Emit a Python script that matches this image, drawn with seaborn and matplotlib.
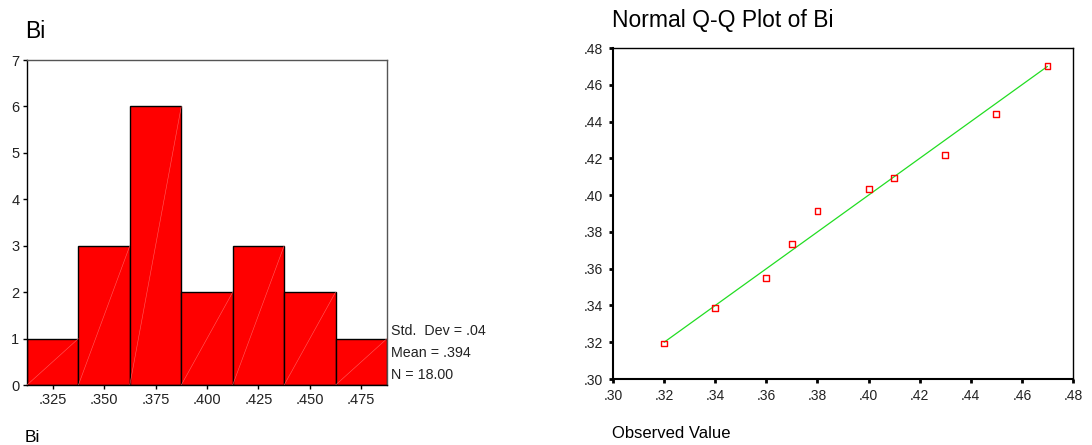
import matplotlib
matplotlib.use("Agg")
import matplotlib.pyplot as plt
import seaborn as sns
import numpy as np
import pandas as pd

# ---- data ----
bin_centers = [0.325, 0.350, 0.375, 0.400, 0.425, 0.450, 0.475]
bin_counts = [1, 3, 6, 2, 3, 2, 1]
bin_width = 0.025
hist_xticklabels = [".325", ".350", ".375", ".400", ".425", ".450", ".475"]
hist_yticks = [0, 1, 2, 3, 4, 5, 6, 7]
stats_lines = ["Std.  Dev = .04", "Mean = .394", "N = 18.00"]

qq_observed = [0.32, 0.34, 0.36, 0.37, 0.38, 0.40, 0.41, 0.43, 0.45, 0.47]
qq_expected = [0.3193, 0.3384, 0.355, 0.3736, 0.3916, 0.4033, 0.4093, 0.422, 0.4439, 0.4703]
qq_line_x = [0.32, 0.47]
qq_line_y = [0.32, 0.47]
qq_ticks = [0.30, 0.32, 0.34, 0.36, 0.38, 0.40, 0.42, 0.44, 0.46, 0.48]
qq_ticklabels = [".30", ".32", ".34", ".36", ".38", ".40", ".42", ".44", ".46", ".48"]

sns.set_theme(style="white")
plt.rcParams['font.family'] = ['Liberation Sans', 'DejaVu Sans']
plt.rcParams['text.color'] = 'black'
plt.rcParams['xtick.color'] = 'black'
plt.rcParams['ytick.color'] = 'black'
plt.rcParams['axes.labelcolor'] = 'black'

fig = plt.figure(figsize=(10.92, 4.45), dpi=100)

# ---- histogram ----
ax1 = fig.add_axes([0.0247, 0.1348, 0.3297, 0.7303])
edges = [c - bin_width / 2 for c in bin_centers] + [bin_centers[-1] + bin_width / 2]
hdf = pd.DataFrame({"Bi": bin_centers, "w": bin_counts})
sns.histplot(data=hdf, x="Bi", weights="w", bins=edges, ax=ax1,
             color="#FF0000", alpha=1, edgecolor="black", linewidth=1.0)
for p in list(ax1.patches):
    x0, w, h = p.get_x(), p.get_width(), p.get_height()
    ax1.plot([x0, x0 + w], [0, h], color="#FF6060", lw=0.4, zorder=3)
ax1.set_xlim(edges[0], edges[-1])
ax1.set_ylim(0, 7)
ax1.set_xticks(bin_centers)
ax1.set_xticklabels(hist_xticklabels)
ax1.set_yticks(hist_yticks)
ax1.set_xlabel("")
ax1.set_ylabel("")
ax1.tick_params(axis="both", which="major", direction="out", length=3, width=1,
                color="black", labelsize=10.5, pad=2.5, bottom=True, left=True,
                labelcolor="#222222")
for s in ax1.spines.values():
    s.set_color("black")
    s.set_linewidth(1.0)
ax1.spines["top"].set_color("#555555")
ax1.spines["right"].set_color("#555555")

for i, t in enumerate(stats_lines):
    fig.text(391 / 1092, 1 - (331 + i * 22) / 445, t, fontsize=10.3, va="center", ha="left",
             color="#222222")

fig.text(25 / 1092, 1 - 31 / 445, "Bi", fontsize=16.5, va="center", ha="left")
fig.text(25 / 1092, 1 - 438 / 445, "Bi", fontsize=12.5, va="center", ha="left")

# ---- Q-Q plot ----
ax2 = fig.add_axes([0.5614, 0.1483, 0.4212, 0.7438])
sns.lineplot(x=qq_line_x, y=qq_line_y, ax=ax2, color="#22DD22", lw=0.9)
sns.scatterplot(x=qq_observed, y=qq_expected, ax=ax2, marker="s", s=18,
                facecolor="none", edgecolor="#FF0000", linewidth=1.0, zorder=4)
ax2.set_xlim(0.30, 0.48)
ax2.set_ylim(0.30, 0.48)
ax2.set_xticks(qq_ticks)
ax2.set_xticklabels(qq_ticklabels)
ax2.set_yticks(qq_ticks)
ax2.set_yticklabels(qq_ticklabels)
ax2.tick_params(axis="both", which="major", direction="out", length=3, width=2,
                color="black", labelsize=10, pad=4, bottom=True, left=True,
                labelcolor="#222222")
for s in ax2.spines.values():
    s.set_color("black")
    s.set_linewidth(1.0)
ax2.spines["left"].set_linewidth(1.5)
ax2.spines["bottom"].set_linewidth(1.5)

fig.text(612 / 1092, 1 - 21 / 445, "Normal Q-Q Plot of Bi", fontsize=16.5, va="center", ha="left")
fig.text(612 / 1092, 1 - 433 / 445, "Observed Value", fontsize=12, va="center", ha="left")

fig.savefig("out.png", dpi=100)
